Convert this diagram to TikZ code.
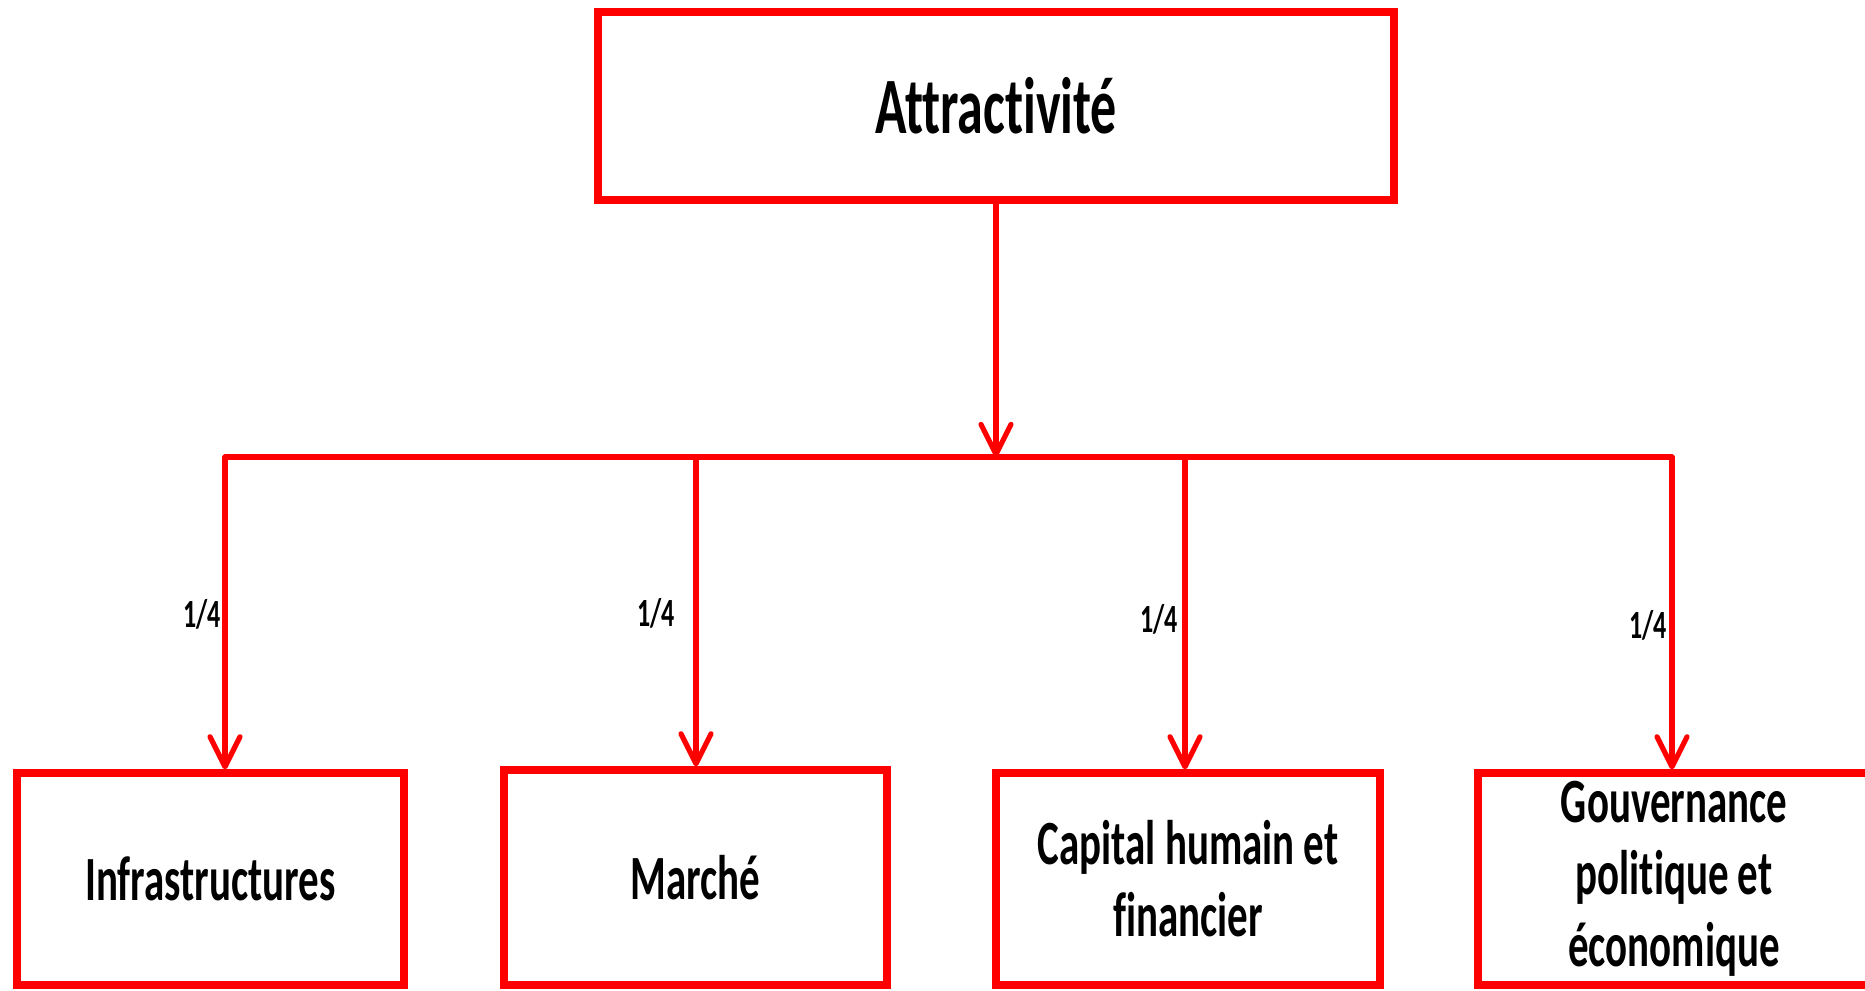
\documentclass[tikz,border=0pt]{standalone}
\usepackage{fontspec}
\setmainfont{Carlito}[FakeStretch=0.65,Ligatures=NoCommon]
\usetikzlibrary{arrows.meta}
\definecolor{boxred}{RGB}{255,0,0}
\tikzset{
  box/.style={draw=boxred, line width=3.6pt, fill=white, rectangle, inner sep=0pt, align=center, font=\bfseries\fontsize{31.5}{36}\selectfont},
  topbox/.style={box, font=\bfseries\fontsize{40}{46}\selectfont},
  link/.style={draw=boxred, line width=2.6pt, line cap=round, line join=round},
  arr/.style={link, -{Straight Barb[length=15pt,width=15pt,round]}},
  weight/.style={anchor=east, inner sep=0pt, font=\bfseries\fontsize{20}{24}\selectfont}
}
\begin{document}
\begin{tikzpicture}[x=0.5pt,y=-0.5pt]
\useasboundingbox (0,0) rectangle (1865,991);
\node[topbox, minimum width=398pt, minimum height=94pt] (top) at (996,106) {\raisebox{-4pt}{Attractivit\'e}};
\node[box, minimum width=193.5pt, minimum height=106pt] (b1) at (210.5,879) {Infrastructures};
\node[box, minimum width=191.5pt, minimum height=107.5pt] (b2) at (695.5,877.5) {March\'e};
\node[box, minimum width=192pt, minimum height=106pt] (b3) at (1188,879) {Capital humain et\\financier};
\node[box, minimum width=196pt, minimum height=106pt] (b4) at (1674,879) {Gouvernance\\politique et\\\'economique};
\coordinate (hub) at (996,457);
\coordinate (c1) at (225,457);
\coordinate (c2) at (696,457);
\coordinate (c3) at (1185,457);
\coordinate (c4) at (1672,457);
\draw[arr] (top.south) -- (hub);
\draw[link] (c1) -- (c4);
\draw[arr] (c1) -- (c1 |- b1.north);
\draw[arr] (c2) -- (c2 |- b2.north);
\draw[arr] (c3) -- (c3 |- b3.north);
\draw[arr] (c4) -- (c4 |- b4.north);
\node[weight] (w1) at (221,614) {1/4};
\node[weight] (w2) at (675,613) {1/4};
\node[weight] (w3) at (1178,619) {1/4};
\node[weight] (w4) at (1667,625) {1/4};
\end{tikzpicture}
\end{document}
